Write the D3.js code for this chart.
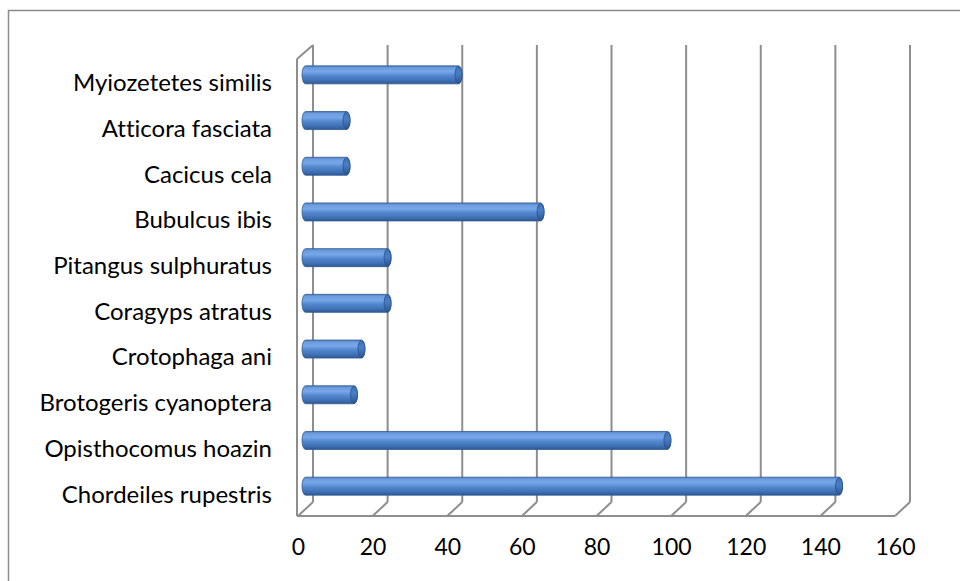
<!DOCTYPE html>
<html>
<head>
<meta charset="utf-8">
<script src="https://cdn.jsdelivr.net/npm/d3@7"></script>
<style>
  html, body { margin: 0; padding: 0; background: #fff; }
  svg { display: block; }
  text { font-family: Lato, "Open Sans", sans-serif; fill: #000; font-variant-ligatures: none; }
</style>
</head>
<body>
<svg id="chart" width="960" height="581"></svg>
<script>
// Bird species, listed top to bottom as they appear on the axis
const species = [
  "Myiozetetes similis",
  "Atticora fasciata",
  "Cacicus cela",
  "Bubulcus ibis",
  "Pitangus sulphuratus",
  "Coragyps atratus",
  "Crotophaga ani",
  "Brotogeris cyanoptera",
  "Opisthocomus hoazin",
  "Chordeiles rupestris"
];
// Number of individuals recorded per species
const counts = [41, 11, 11, 63, 22, 22, 15, 13, 97, 143];
const xTicks = [0, 20, 40, 60, 80, 100, 120, 140, 160];

const svg = d3.select("#chart");

// Front plane of the pseudo-3D plot box; the back plane is shifted by depth
const front = { left: 298, right: 895, top: 59, bottom: 516 };
const depth = { dx: 15, dy: -14 };

const x = d3.scaleLinear().domain([0, 160]).range([front.left, front.right]);
const y = d3.scaleBand().domain(species).range([front.top, front.bottom]);

// Outer chart border (runs past the right and bottom edges)
svg.append("rect")
  .attr("x", 8.5).attr("y", 10.5)
  .attr("width", 1000).attr("height", 1000)
  .attr("fill", "none").attr("stroke", "#8c8c8c").attr("stroke-width", 1.5);

// Cylinder shading
const defs = svg.append("defs");
const body = defs.append("linearGradient")
  .attr("id", "cyl").attr("x1", 0).attr("y1", 0).attr("x2", 0).attr("y2", 1);
[
  [0, "#4f80c2"], [0.12, "#6d9ddf"], [0.32, "#77a7e8"], [0.55, "#5287cf"],
  [0.82, "#3f70b3"], [1, "#2e5892"]
].forEach(([o, c]) => body.append("stop").attr("offset", o).attr("stop-color", c));

const cap = defs.append("linearGradient")
  .attr("id", "cap").attr("x1", 0).attr("y1", 0).attr("x2", 0).attr("y2", 1);
[
  [0, "#3f6fb0"], [0.4, "#4a7fc6"], [1, "#2c5690"]
].forEach(([o, c]) => cap.append("stop").attr("offset", o).attr("stop-color", c));

// Grid: vertical lines on the back plane plus floor diagonals
const grid = svg.append("g")
  .attr("stroke", "#8e8e8e").attr("stroke-width", 2).attr("fill", "none");

grid.selectAll("line.back").data(xTicks).join("line")
  .attr("class", "back")
  .attr("x1", d => x(d) + depth.dx).attr("x2", d => x(d) + depth.dx)
  .attr("y1", front.top + depth.dy).attr("y2", front.bottom + depth.dy);

grid.selectAll("line.floor").data(xTicks).join("line")
  .attr("class", "floor")
  .attr("x1", d => x(d)).attr("y1", front.bottom)
  .attr("x2", d => x(d) + depth.dx).attr("y2", front.bottom + depth.dy);

// Floor front edge
grid.append("line")
  .attr("x1", x(0) - 1).attr("x2", x(160))
  .attr("y1", front.bottom).attr("y2", front.bottom);

// Left wall: front edge and top diagonal
grid.append("line")
  .attr("x1", x(0) - 1).attr("x2", x(0) - 1)
  .attr("y1", front.top).attr("y2", front.bottom);
grid.append("line")
  .attr("x1", x(0) - 1).attr("y1", front.top)
  .attr("x2", x(0) + depth.dx).attr("y2", front.top + depth.dy);

// Bars drawn as horizontal cylinders at mid depth
const barH = 18;
const capRx = 3.5;
const midDx = depth.dx / 2, midDy = depth.dy / 2;

const bars = svg.append("g").selectAll("g.bar")
  .data(species.map((s, i) => ({ s, v: counts[i] })))
  .join("g").attr("class", "bar");

bars.append("rect")
  .attr("x", d => x(0) + midDx - capRx)
  .attr("y", d => y(d.s) + y.bandwidth() / 2 + midDy - barH / 2)
  .attr("width", d => x(d.v) - x(0) + 2 * capRx)
  .attr("height", barH)
  .attr("rx", capRx).attr("ry", barH / 2)
  .attr("fill", "url(#cyl)")
  .attr("stroke", "#2f5a93").attr("stroke-width", 0.8);

bars.append("ellipse")
  .attr("cx", d => x(d.v) + midDx)
  .attr("cy", d => y(d.s) + y.bandwidth() / 2 + midDy)
  .attr("rx", capRx).attr("ry", barH / 2 - 0.4)
  .attr("fill", "url(#cap)")
  .attr("stroke", "#2a5089").attr("stroke-width", 0.8);

// Category labels
svg.append("g").selectAll("text")
  .data(species).join("text")
  .attr("x", 272)
  .attr("y", d => y(d) + y.bandwidth() / 2 + 1)
  .attr("dy", "0.35em")
  .attr("text-anchor", "end")
  .style("font-size", "24px")
  .text(d => d);

// Value axis labels
const xAxis = svg.append("g")
  .attr("transform", `translate(0,${front.bottom})`)
  .call(d3.axisBottom(x).tickValues(xTicks).tickSize(0).tickPadding(23));
xAxis.select(".domain").remove();
xAxis.selectAll("text")
  .style("font-size", "23px")
  .style("font-family", "Lato, 'Open Sans', sans-serif")
  .style("font-variant-ligatures", "none")
  .attr("fill", "#000");
</script>
</body>
</html>
